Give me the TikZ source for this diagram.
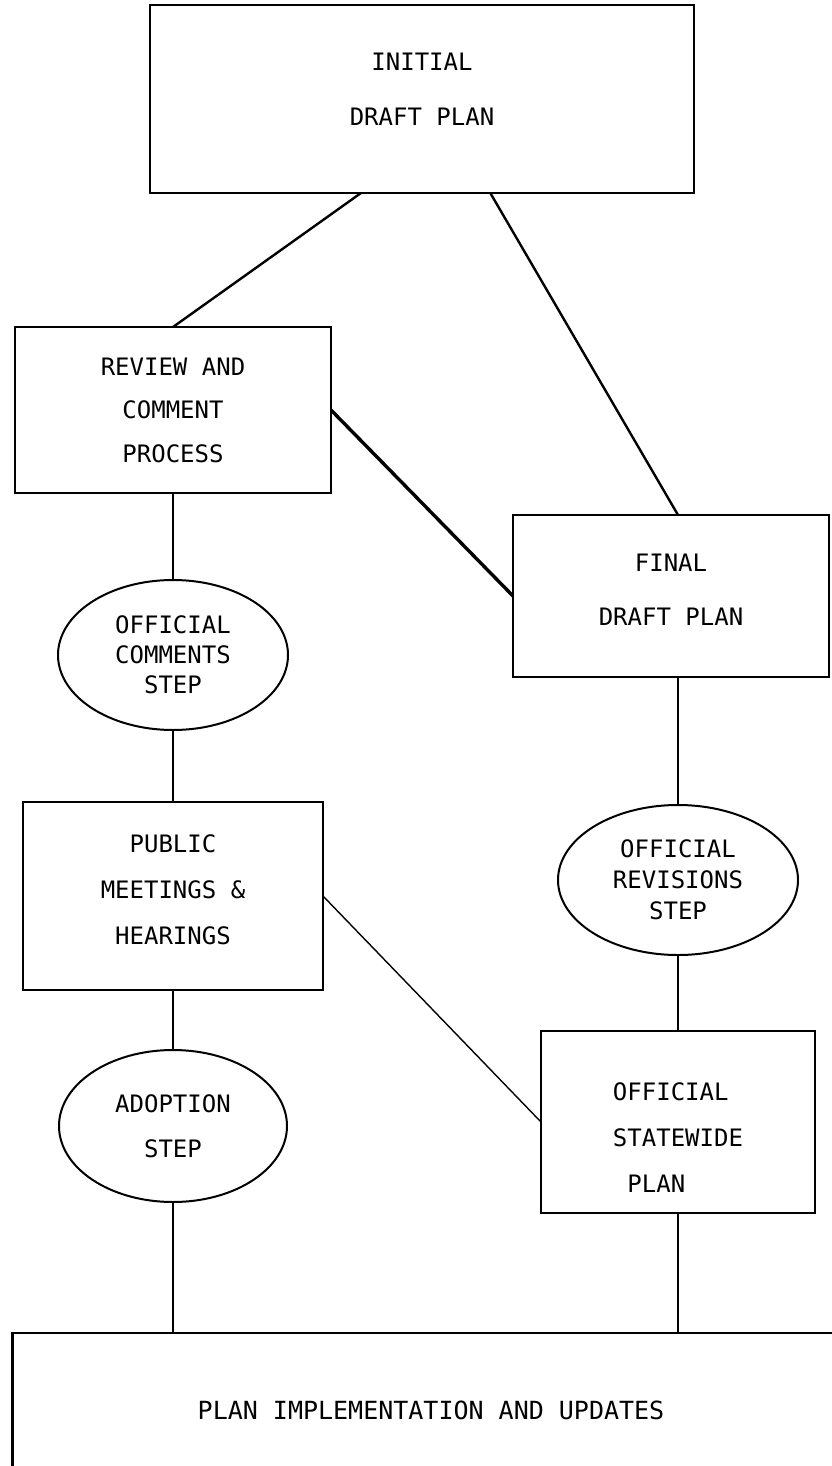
\documentclass[tikz,border=0pt]{standalone}
\usepackage{fontspec}
\setmonofont{DejaVu Sans Mono}
\usetikzlibrary{shapes.geometric}

\tikzset{
  stage/.style={draw, line width=1.4pt, outer sep=0pt, align=center,
    font=\ttfamily\fontsize{12}{23}\selectfont},
  stepoval/.style={draw, ellipse, line width=1pt, outer sep=0pt, inner sep=0pt,
    align=center, font=\ttfamily\fontsize{12}{15}\selectfont},
  link/.style={line width=1.2pt}
}

\begin{document}
\begin{tikzpicture}[x=0.5pt,y=-0.5pt]
\useasboundingbox (0,0) rectangle (831,1466);

% boxes, left column then right column
\node[stage, minimum width=272pt, minimum height=94pt,
  font=\ttfamily\fontsize{12}{27.5}\selectfont] (init) at (422,99) {INITIAL\\DRAFT PLAN\rule[-10pt]{0pt}{0pt}};
\node[stage, minimum width=158pt, minimum height=83pt,
  font=\ttfamily\fontsize{12}{21.75}\selectfont] (review) at (173,410) {REVIEW AND\\COMMENT\\PROCESS};
\node[stepoval, minimum width=115pt, minimum height=75pt] (comments) at (173,655) {OFFICIAL\\COMMENTS\\STEP};
\node[stage, minimum width=150pt, minimum height=94pt] (public) at (173,896) {PUBLIC\\MEETINGS \&\\HEARINGS\rule[-6pt]{0pt}{0pt}};
\node[stepoval, minimum width=114pt, minimum height=76pt,
  font=\ttfamily\fontsize{12}{22.5}\selectfont] (adoption) at (173,1126) {ADOPTION\\STEP};

\node[stage, minimum width=158pt, minimum height=81pt,
  font=\ttfamily\fontsize{12}{27}\selectfont] (final) at (671,596) {FINAL\\DRAFT PLAN\rule[-6pt]{0pt}{0pt}};
\node[stepoval, minimum width=120pt, minimum height=75pt,
  font=\ttfamily\fontsize{12}{15.5}\selectfont] (revisions) at (678,880) {OFFICIAL\\REVISIONS\\STEP};
\node[stage, minimum width=137pt, minimum height=91pt, align=left] (statewide) at (678,1122) {\rule{0pt}{24pt}OFFICIAL\\STATEWIDE\\\ PLAN};

\node[stage, minimum width=418.5pt, minimum height=77pt,
  font=\ttfamily\fontsize{12.5}{15}\selectfont] (impl) at (431,1410) {PLAN IMPLEMENTATION AND UPDATES};

% connectors
\draw[link] (init.237) -- (review.north);
\draw[link] (init.306) -- (final.north -| revisions.north);
\draw[link, line width=1.7pt] (review.east) -- (final.west);
\draw[link] (review.south) -- (comments.north);
\draw[link] (comments.south) -- (public.north);
\draw[link, line width=0.7pt] (public.east) -- (statewide.west);
\draw[link] (final.south -| revisions.north) -- (revisions.north);
\draw[link] (revisions.south) -- (statewide.north);
\draw[link] (public.south) -- (adoption.north);
\draw[link] (adoption.south) -- (adoption.south |- impl.north);
\draw[link] (statewide.south) -- (statewide.south |- impl.north);

\end{tikzpicture}
\end{document}
